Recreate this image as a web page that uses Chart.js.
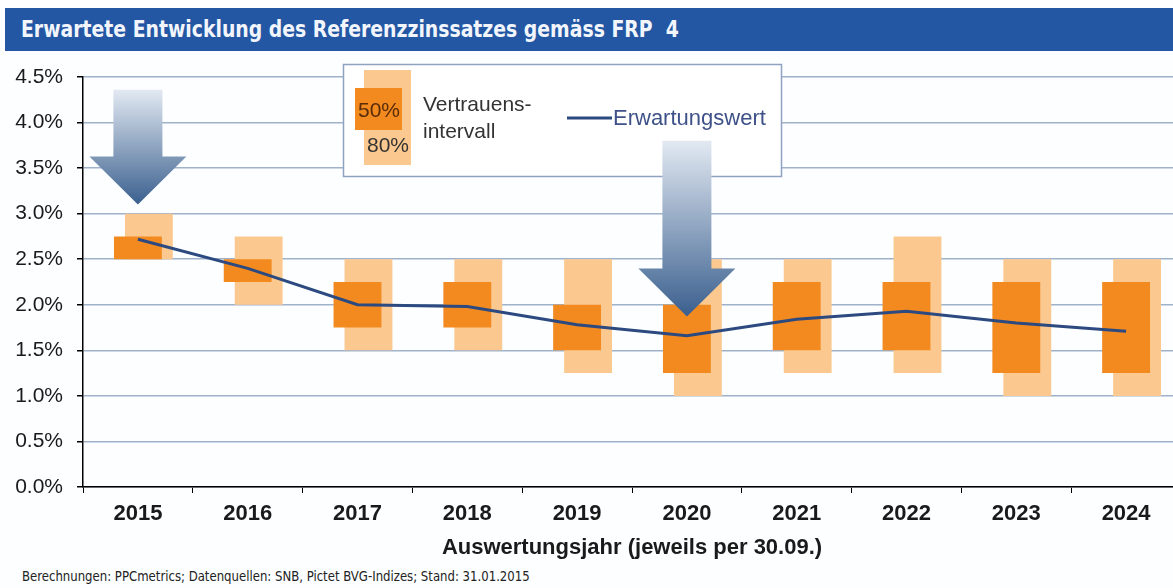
<!DOCTYPE html>
<html>
<head>
<meta charset="utf-8">
<script src="https://cdn.jsdelivr.net/npm/chart.js@4.4.1/dist/chart.umd.min.js"></script>
<style>
  html, body { margin: 0; padding: 0; width: 1173px; height: 588px; overflow: hidden; background: #fcfeff; }
  #titlebar {
    position: absolute; left: 5px; top: 8px; width: 1168px; height: 43px;
    background: #2357a3; color: #f2f6fc; box-sizing: border-box; padding-left: 16px;
    font-family: "Liberation Sans Narrow", "DejaVu Sans Condensed", Arial, sans-serif;
    font-weight: bold; font-size: 23px; line-height: 43px; white-space: pre;
  }
  #titlebar span, #foot span { display: inline-block; transform-origin: left center; }
  #titlebar span { transform: scaleX(0.91); }
  #wrap { position: absolute; left: 0; top: 0; width: 1190px; height: 565px; }
  #foot {
    position: absolute; left: 22px; top: 568px; color: #222; white-space: nowrap;
    font-family: "Liberation Sans Narrow", "DejaVu Sans Condensed", Arial, sans-serif; font-size: 14px;
  }
  #foot span { transform: scaleX(0.93); }
</style>
</head>
<body>
<div id="titlebar"><span>Erwartete Entwicklung des Referenzzinssatzes gemäss FRP  4</span></div>
<div id="wrap"><canvas id="chart" width="1190" height="565"></canvas></div>
<div id="foot"><span>Berechnungen: PPCmetrics; Datenquellen: SNB, Pictet BVG-Indizes; Stand: 31.01.2015</span></div>
<script>
// Auswertungsjahr
const years = ['2015', '2016', '2017', '2018', '2019', '2020', '2021', '2022', '2023', '2024'];
// 50% Vertrauensintervall (unten / oben), in %
const band50Low  = [2.50, 2.25, 1.75, 1.75, 1.50, 1.25, 1.50, 1.50, 1.25, 1.25];
const band50High = [2.75, 2.50, 2.25, 2.25, 2.00, 2.00, 2.25, 2.25, 2.25, 2.25];
// 80% Vertrauensintervall
const band80Low  = [2.50, 2.00, 1.50, 1.50, 1.25, 1.00, 1.25, 1.25, 1.00, 1.00];
const band80High = [3.00, 2.75, 2.50, 2.50, 2.50, 2.50, 2.50, 2.75, 2.50, 2.50];
// Erwartungswert
const expected   = [2.72, 2.40, 2.00, 1.98, 1.78, 1.66, 1.84, 1.93, 1.80, 1.71];
// y-axis ticks
const yTicks = [0, 0.5, 1.0, 1.5, 2.0, 2.5, 3.0, 3.5, 4.0, 4.5];
// highlight arrows (year, start value, tip value)
const arrowYears = ['2015', '2020'];
const arrowFrom  = [4.36, 3.80];
const arrowTo    = [3.10, 1.87];

const COLOR50 = '#f28a1f';
const COLOR80 = '#fbc98f';
const LINE = '#2c4a80';
const FONT = '"Liberation Sans", Arial, sans-serif';

function drawArrow(ctx, cx, yTop, yTip) {
  const shaft = 24.5, head = 48.5, headLen = 48;
  const g = ctx.createLinearGradient(0, yTop, 0, yTip);
  g.addColorStop(0, '#e2e9f2');
  g.addColorStop(1, '#3a5f8e');
  ctx.fillStyle = g;
  ctx.beginPath();
  ctx.moveTo(cx - shaft, yTop);
  ctx.lineTo(cx + shaft, yTop);
  ctx.lineTo(cx + shaft, yTip - headLen);
  ctx.lineTo(cx + head, yTip - headLen);
  ctx.lineTo(cx, yTip);
  ctx.lineTo(cx - head, yTip - headLen);
  ctx.lineTo(cx - shaft, yTip - headLen);
  ctx.closePath();
  ctx.fill();
}

function drawLegend(ctx) {
  ctx.fillStyle = '#ffffff';
  ctx.fillRect(343, 64, 439, 113);
  ctx.strokeStyle = '#8fa3c1';
  ctx.lineWidth = 1.5;
  ctx.strokeRect(343.5, 64.5, 438, 112);

  ctx.fillStyle = COLOR80;
  ctx.fillRect(364, 70, 47, 95);
  ctx.fillStyle = COLOR50;
  ctx.fillRect(355, 88, 47, 42);

  ctx.font = '21px ' + FONT;
  ctx.textBaseline = 'middle';
  ctx.textAlign = 'center';
  ctx.fillStyle = '#5a2c08';
  ctx.fillText('50%', 379, 111);
  ctx.fillStyle = '#333333';
  ctx.fillText('80%', 388, 146);
  ctx.textAlign = 'left';
  ctx.fillText('Vertrauens-', 423, 105);
  ctx.fillText('intervall', 423, 132);

  ctx.strokeStyle = LINE;
  ctx.lineWidth = 3;
  ctx.beginPath();
  ctx.moveTo(567, 118);
  ctx.lineTo(612, 118);
  ctx.stroke();
  ctx.fillStyle = '#3e5188';
  ctx.font = '22px ' + FONT;
  ctx.fillText('Erwartungswert', 613, 119);
}

const overlay = {
  id: 'overlay',
  afterDatasetsDraw(chart) {
    const ctx = chart.ctx;
    const x = chart.scales.x, y = chart.scales.y;
    ctx.save();
    drawLegend(ctx);
    arrowYears.forEach((yr, i) => {
      const cx = x.getPixelForValue(years.indexOf(yr));
      drawArrow(ctx, cx, y.getPixelForValue(arrowFrom[i]), y.getPixelForValue(arrowTo[i]));
    });
    ctx.restore();
  }
};

new Chart(document.getElementById('chart'), {
  type: 'bar',
  data: {
    labels: years,
    datasets: [
      {
        type: 'line',
        label: 'Erwartungswert',
        data: expected,
        borderColor: LINE,
        borderWidth: 3,
        pointRadius: 0,
        tension: 0,
        order: 0
      },
      {
        // empty slot so the 50% bar sits on the year centre
        label: '',
        data: years.map(() => null),
        order: 1
      },
      {
        label: '50%',
        data: band50Low.map((v, i) => [v, band50High[i]]),
        backgroundColor: COLOR50,
        order: 2
      },
      {
        label: '80%',
        data: band80Low.map((v, i) => [v, band80High[i]]),
        backgroundColor: COLOR80,
        order: 3
      }
    ]
  },
  options: {
    responsive: false,
    animation: false,
    devicePixelRatio: 1,
    layout: { padding: { top: 77, right: 9, left: 0, bottom: 0 } },
    datasets: {
      bar: { categoryPercentage: 0.3, barPercentage: 4.36 }
    },
    plugins: {
      legend: { display: false },
      tooltip: { enabled: false }
    },
    scales: {
      x: {
        afterFit: (s) => { s.height = 78; },
        grid: { drawOnChartArea: false, drawTicks: true, tickLength: 6, tickColor: '#000', offset: true },
        border: { color: '#000', width: 1.5 },
        ticks: { color: '#1a1a1a', font: { family: FONT, size: 22, weight: 'bold' }, padding: 8 },
        title: {
          display: true,
          text: 'Auswertungsjahr (jeweils per 30.09.)',
          color: '#1a1a1a',
          font: { family: FONT, size: 22, weight: 'bold' },
          padding: { top: 0, bottom: 4 }
        }
      },
      y: {
        min: 0,
        max: 4.5,
        afterFit: (s) => { s.width = 83; },
        afterBuildTicks: (s) => { s.ticks = yTicks.map(v => ({ value: v })); },
        grid: { color: '#9fb2ca', lineWidth: 1.5, tickColor: '#000', tickLength: 6 },
        border: { color: '#000', width: 1.5 },
        ticks: {
          color: '#1a1a1a',
          font: { family: FONT, size: 21 },
          padding: 14,
          callback: (v) => v.toFixed(1) + '%'
        }
      }
    }
  },
  plugins: [overlay]
});
</script>
</body>
</html>
